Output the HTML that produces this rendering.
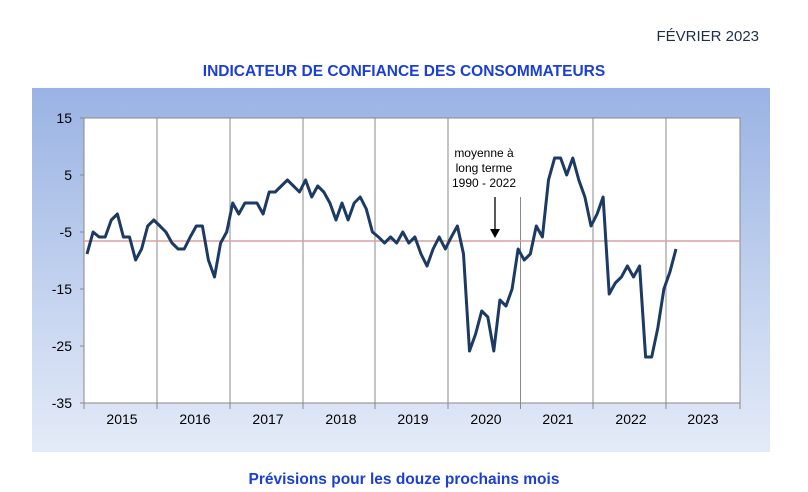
<!DOCTYPE html>
<html><head><meta charset="utf-8"><style>
body{margin:0;width:808px;height:492px;background:#fff;font-family:"Liberation Sans",sans-serif;position:relative;overflow:hidden}
.t{position:absolute;white-space:nowrap}
</style></head><body>
<div class="t" style="right:49px;top:28px;font-size:15px;color:#1f2d4d">FÉVRIER 2023</div>
<div class="t" style="left:0;width:808px;text-align:center;top:63px;font-size:15.5px;font-weight:bold;color:#1a3fd6">INDICATEUR DE CONFIANCE DES CONSOMMATEURS</div>
<div class="t" style="left:0;width:808px;text-align:center;top:471px;font-size:15.5px;font-weight:bold;color:#1a3fd6">Prévisions pour les douze prochains mois</div>
<svg width="808" height="492" style="position:absolute;left:0;top:0">
<defs><linearGradient id="g" x1="0" y1="0" x2="0" y2="1"><stop offset="0" stop-color="#9ab3e3"/><stop offset="1" stop-color="#e4ebf8"/></linearGradient></defs>
<rect x="32" y="88" width="738" height="364" fill="url(#g)"/>
<rect x="84" y="118" width="656" height="285" fill="#fff" stroke="#888" stroke-width="1"/>
<g stroke="#888" stroke-width="1">
<line x1="80" y1="118" x2="84" y2="118"/><line x1="80" y1="175" x2="84" y2="175"/><line x1="80" y1="232" x2="84" y2="232"/><line x1="80" y1="289" x2="84" y2="289"/><line x1="80" y1="346" x2="84" y2="346"/><line x1="80" y1="403" x2="84" y2="403"/>
<line x1="157" y1="118" x2="157" y2="409"/><line x1="230" y1="118" x2="230" y2="409"/><line x1="303" y1="118" x2="303" y2="409"/><line x1="375" y1="118" x2="375" y2="409"/><line x1="448" y1="118" x2="448" y2="409"/><line x1="520.5" y1="197" x2="520.5" y2="409"/><line x1="593" y1="118" x2="593" y2="409"/><line x1="666" y1="118" x2="666" y2="409"/><line x1="740" y1="403" x2="740" y2="409"/><line x1="84" y1="403" x2="84" y2="409"/>
</g>
<line x1="84" y1="241" x2="740" y2="241" stroke="#d9a0a0" stroke-width="1.5"/>
<g font-size="14" fill="#000" text-anchor="end">
<text x="72" y="123">15</text><text x="72" y="180">5</text><text x="72" y="237">-5</text><text x="72" y="294">-15</text><text x="72" y="351">-25</text><text x="72" y="408">-35</text></g>
<g font-size="14" fill="#000" text-anchor="middle">
<text x="122" y="424">2015</text><text x="195" y="424">2016</text><text x="268" y="424">2017</text><text x="341" y="424">2018</text><text x="413" y="424">2019</text><text x="486" y="424">2020</text><text x="558" y="424">2021</text><text x="631" y="424">2022</text><text x="703" y="424">2023</text></g>
<g font-size="12" fill="#000" text-anchor="middle">
<text x="484" y="157">moyenne à</text><text x="484" y="172">long terme</text><text x="484" y="187">1990 - 2022</text></g>
<line x1="495" y1="197" x2="495" y2="230" stroke="#000" stroke-width="1.3"/>
<polygon points="490,229 500,229 495,238" fill="#000"/>
<polyline id="p" fill="none" stroke="#1c3a63" stroke-width="3" stroke-linejoin="round"/>
</svg>
<script>
var y=[254,232,237,237,220,214,237,237,260,249,226,220,226,232,243,249,249,237,226,226,260,277,243,232,203,214,203,203,203,214,192,192,186,180,186,192,180,197,186,192,203,220,203,220,203,197,209,232,237,243,237,243,232,243,237,254,266,249,237,249,237,226,254,351,334,311,317,351,300,306,289,249,260,254,226,237,180,158,158,175,158,180,197,226,214,197,294,283,277,266,277,266,357,357,328,289,272,249];
var s=(676-87)/(y.length-1),p=[];for(var i=0;i<y.length;i++)p.push((87+i*s).toFixed(1)+","+y[i]);
document.getElementById("p").setAttribute("points",p.join(" "));
</script>
</body></html>
